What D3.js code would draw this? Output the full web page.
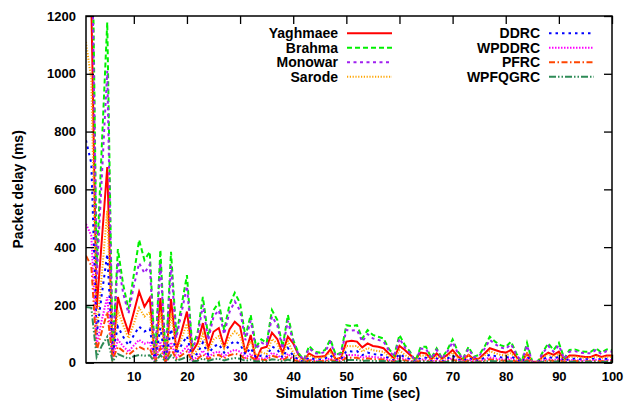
<!DOCTYPE html>
<html>
<head>
<meta charset="utf-8">
<script src="https://cdn.jsdelivr.net/npm/d3@7"></script>
<style>
    body { margin: 0; background: #fff; }
    svg { display: block; }
</style>
</head>
<body>
<div id="wrapper"></div>
<script>
// data, one value per second (t = 1..100)
const simTime = d3.range(1, 101);

const yaghmaee = [1500, 1250, 185, 430, 677, 20, 227, 160, 105, 175,
    246, 194, 224, 8, 224, 6, 220, 44, 110, 177,
    38, 68, 137, 50, 107, 120, 55, 115, 142, 125,
    33, 96, 10, 50, 55, 104, 82, 33, 90, 67,
    27, 9, 32, 21, 21, 23, 46, 12, 17, 73,
    76, 73, 53, 67, 58, 55, 50, 32, 15, 58,
    44, 27, 12, 35, 32, 12, 32, 15, 27, 44,
    21, 10, 27, 12, 15, 32, 50, 44, 38, 35,
    44, 20, 3, 32, 3, 3, 22, 35, 27, 38,
    10, 25, 25, 22, 20, 20, 27, 20, 25, 25];

const brahma = [2600, 1780, 330, 760, 1178, 40, 393, 270, 185, 305,
    425, 355, 384, 12, 390, 10, 384, 96, 200, 303,
    55, 103, 228, 90, 182, 208, 113, 200, 242, 206,
    90, 165, 55, 81, 68, 182, 148, 55, 165, 79,
    33, 10, 58, 38, 35, 44, 81, 27, 35, 130,
    127, 130, 84, 113, 96, 90, 84, 48, 25, 96,
    61, 38, 5, 55, 55, 16, 50, 16, 44, 81,
    38, 16, 55, 21, 27, 55, 90, 73, 61, 55,
    73, 32, 3, 69, 3, 3, 38, 67, 44, 69,
    15, 44, 46, 40, 38, 38, 50, 35, 46, 44];

const monowar = [2300, 1600, 290, 650, 1010, 35, 350, 240, 170, 265,
    345, 310, 340, 10, 345, 8, 335, 85, 175, 265,
    48, 90, 200, 78, 160, 182, 98, 175, 212, 180,
    78, 145, 48, 70, 60, 160, 130, 48, 145, 70,
    29, 9, 50, 33, 31, 38, 71, 24, 31, 113,
    111, 113, 73, 99, 84, 79, 73, 42, 22, 84,
    53, 33, 4, 48, 48, 14, 44, 14, 38, 71,
    33, 14, 48, 18, 24, 48, 79, 64, 53, 48,
    64, 28, 3, 60, 3, 3, 33, 58, 38, 60,
    13, 38, 40, 35, 33, 33, 44, 30, 40, 38];

const sarode = [1110, 980, 100, 310, 526, 15, 180, 130, 85, 135,
    190, 160, 175, 6, 175, 5, 172, 40, 85, 135,
    25, 45, 100, 40, 80, 92, 50, 88, 108, 92,
    40, 74, 25, 36, 30, 82, 66, 25, 74, 35,
    15, 5, 26, 17, 16, 20, 36, 12, 16, 58,
    57, 58, 38, 51, 43, 40, 38, 22, 11, 43,
    27, 17, 2, 25, 25, 7, 22, 7, 20, 36,
    17, 7, 25, 9, 12, 25, 40, 33, 27, 25,
    33, 14, 1, 31, 1, 1, 17, 30, 20, 31,
    7, 20, 21, 18, 17, 17, 22, 16, 21, 20];

const ddrc = [770, 690, 96, 240, 376, 30, 125, 90, 60, 95,
    125, 108, 118, 4, 120, 3, 117, 30, 62, 92,
    17, 32, 70, 28, 56, 64, 35, 62, 75, 64,
    28, 51, 17, 25, 21, 56, 46, 17, 51, 24,
    10, 3, 18, 12, 11, 14, 25, 8, 11, 40,
    39, 40, 26, 35, 30, 28, 26, 15, 8, 30,
    19, 12, 2, 17, 17, 5, 15, 5, 14, 25,
    12, 5, 17, 7, 8, 17, 28, 23, 19, 17,
    23, 10, 1, 21, 1, 1, 12, 21, 14, 21,
    5, 14, 14, 12, 12, 12, 15, 11, 14, 14];

const wpddrc = [480, 440, 60, 150, 227, 20, 79, 57, 38, 60,
    79, 66, 72, 3, 73, 2, 71, 18, 37, 56,
    10, 19, 42, 17, 34, 38, 21, 37, 45, 38,
    17, 31, 10, 15, 13, 34, 27, 10, 31, 15,
    6, 2, 11, 7, 7, 8, 15, 5, 7, 27,
    26, 27, 17, 23, 20, 18, 17, 9, 5, 19,
    12, 7, 1, 11, 11, 3, 10, 3, 9, 16,
    8, 3, 11, 4, 5, 11, 18, 15, 12, 11,
    15, 6, 1, 14, 1, 1, 8, 13, 9, 14,
    3, 9, 9, 8, 8, 8, 10, 7, 9, 9];

const pfrc = [370, 335, 40, 110, 175, 12, 55, 40, 27, 42,
    55, 46, 50, 2, 51, 1, 50, 12, 26, 39,
    7, 13, 29, 12, 24, 27, 15, 26, 31, 27,
    12, 21, 7, 10, 9, 24, 19, 7, 21, 10,
    4, 1, 8, 5, 5, 6, 10, 4, 5, 17,
    17, 17, 11, 15, 12, 12, 11, 6, 3, 12,
    8, 5, 1, 7, 7, 2, 6, 2, 6, 10,
    5, 2, 7, 3, 4, 7, 12, 9, 8, 7,
    9, 4, 0, 9, 0, 0, 5, 9, 6, 9,
    2, 6, 6, 5, 5, 5, 6, 5, 6, 6];

const wpfqgrc = [193, 190, 20, 60, 90, 4, 30, 22, 14, 22,
    27, 24, 26, 1, 27, 1, 26, 7, 13, 20,
    4, 7, 15, 6, 12, 14, 8, 13, 16, 14,
    6, 11, 4, 5, 5, 12, 10, 4, 11, 5,
    2, 1, 4, 3, 2, 3, 5, 2, 2, 9,
    9, 9, 6, 8, 6, 6, 6, 3, 2, 6,
    4, 3, 0, 4, 4, 1, 3, 1, 3, 5,
    3, 1, 4, 1, 2, 4, 6, 5, 4, 4,
    5, 2, 0, 5, 0, 0, 3, 5, 3, 5,
    1, 3, 3, 3, 3, 3, 3, 2, 3, 3];

const seriesNames = ['Yaghmaee', 'Brahma', 'Monowar', 'Sarode',
    'DDRC', 'WPDDRC', 'PFRC', 'WPFQGRC'];
const seriesValues = [yaghmaee, brahma, monowar, sarode,
    ddrc, wpddrc, pfrc, wpfqgrc];

const xTicks = [10, 20, 30, 40, 50, 60, 70, 80, 90, 100];
const yTicks = [0, 200, 400, 600, 800, 1000, 1200];

function drawChart() {
    //1. Access data
    const dataset = seriesNames.map((name, i) => ({
        name: name,
        points: simTime.map((t, j) => ({ t: t, v: seriesValues[i][j] }))
    }));
    const xAccessor = d => d.t;
    const yAccessor = d => d.v;

    //2. Create chart dimensions
    const dimensions = {
        width: 628,
        height: 406,
        margin: { top: 16, right: 16, bottom: 43.3, left: 86 }
    };
    dimensions.boundedWidth = dimensions.width
        - dimensions.margin.left - dimensions.margin.right;
    dimensions.boundedHeight = dimensions.height
        - dimensions.margin.top - dimensions.margin.bottom;

    // gnuplot-ish line styles
    const styles = {
        Yaghmaee: { color: '#ff0000', dash: null },
        Brahma: { color: '#00f000', dash: '5,3' },
        Monowar: { color: '#a020f0', dash: '3,3.5' },
        Sarode: { color: '#ffa500', dash: '1.2,1.6' },
        DDRC: { color: '#0000ff', dash: '2.5,4' },
        WPDDRC: { color: '#ff00ff', dash: '1.5,1.5' },
        PFRC: { color: '#ff4500', dash: '6,2.5,1.5,2.5' },
        WPFQGRC: { color: '#2e8b57', dash: '7,2,1.5,2,1.5,2' }
    };
    const font = '"Liberation Sans", Arial, Helvetica, sans-serif';

    //3. Draw canvas
    const wrapper = d3.select('#wrapper')
        .append('svg')
        .attr('width', dimensions.width)
        .attr('height', dimensions.height);
    const bounds = wrapper.append('g')
        .attr('transform', `translate(${dimensions.margin.left},${dimensions.margin.top})`);

    bounds.append('clipPath')
        .attr('id', 'plot-clip')
        .append('rect')
        .attr('width', dimensions.boundedWidth)
        .attr('height', dimensions.boundedHeight);

    //4. Create scales
    const xScale = d3.scaleLinear()
        .domain([1, 100])
        .range([0, dimensions.boundedWidth]);
    const yScale = d3.scaleLinear()
        .domain([0, 1200])
        .range([dimensions.boundedHeight, 0]);

    //5. Draw data
    const lineGenerator = d3.line()
        .x(d => xScale(xAccessor(d)))
        .y(d => yScale(yAccessor(d)));
    bounds.append('g')
        .attr('clip-path', 'url(#plot-clip)')
        .selectAll('path')
        .data(dataset)
        .join('path')
        .attr('d', d => lineGenerator(d.points))
        .attr('fill', 'none')
        .attr('stroke', d => styles[d.name].color)
        .attr('stroke-width', 2)
        .attr('stroke-dasharray', d => styles[d.name].dash)
        .attr('stroke-linejoin', 'miter');

    //6. Draw peripherals
    const xAxis = bounds.append('g')
        .attr('transform', `translate(0,${dimensions.boundedHeight})`)
        .call(d3.axisBottom(xScale).tickValues(xTicks).tickFormat(d3.format('d'))
            .tickSize(-8).tickSizeOuter(0).tickPadding(9));
    const yAxis = bounds.append('g')
        .call(d3.axisLeft(yScale).tickValues(yTicks).tickFormat(d3.format('d'))
            .tickSize(-8).tickSizeOuter(0).tickPadding(10));
    bounds.append('g')
        .call(d3.axisTop(xScale).tickValues(xTicks)
            .tickSize(-8).tickSizeOuter(0).tickFormat(''));
    bounds.append('g')
        .attr('transform', `translate(${dimensions.boundedWidth},0)`)
        .call(d3.axisRight(yScale).tickValues(yTicks)
            .tickSize(-8).tickSizeOuter(0).tickFormat(''));
    bounds.selectAll('.domain').remove();
    bounds.selectAll('.tick line')
        .attr('stroke', '#000')
        .attr('stroke-width', 1.3);
    [xAxis, yAxis].forEach(axis => axis.selectAll('text')
        .attr('fill', '#000')
        .style('font-family', font)
        .style('font-weight', 'bold')
        .style('font-size', '13px'));

    bounds.append('rect')
        .attr('width', dimensions.boundedWidth)
        .attr('height', dimensions.boundedHeight)
        .attr('fill', 'none')
        .attr('stroke', '#000')
        .attr('stroke-width', 1.5);

    wrapper.append('text')
        .attr('x', dimensions.margin.left + dimensions.boundedWidth / 2 - 1)
        .attr('y', 398)
        .attr('text-anchor', 'middle')
        .style('font-family', font)
        .style('font-weight', 'bold')
        .style('font-size', '14px')
        .text('Simulation Time (sec)');
    wrapper.append('text')
        .attr('transform', `translate(23,${dimensions.margin.top + dimensions.boundedHeight / 2}) rotate(-90)`)
        .attr('text-anchor', 'middle')
        .style('font-family', font)
        .style('font-weight', 'bold')
        .style('font-size', '14px')
        .text('Packet delay (ms)');

    // legend: two columns of four, text right-aligned before the sample
    const legend = wrapper.append('g');
    const legendItems = legend.selectAll('g')
        .data(seriesNames)
        .join('g')
        .attr('transform', (d, i) => {
            const col = Math.floor(i / 4);
            const row = i % 4;
            return `translate(${col === 0 ? 338 : 540},${33.3 + row * 14.45})`;
        });
    legendItems.append('text')
        .attr('x', 0)
        .attr('y', 5)
        .attr('text-anchor', 'end')
        .style('font-family', font)
        .style('font-weight', 'bold')
        .style('font-size', '14px')
        .text(d => d);
    legendItems.append('line')
        .attr('x1', 9)
        .attr('x2', 54)
        .attr('stroke', d => styles[d].color)
        .attr('stroke-width', 2)
        .attr('stroke-dasharray', d => styles[d].dash);
}

drawChart();
</script>
</body>
</html>
